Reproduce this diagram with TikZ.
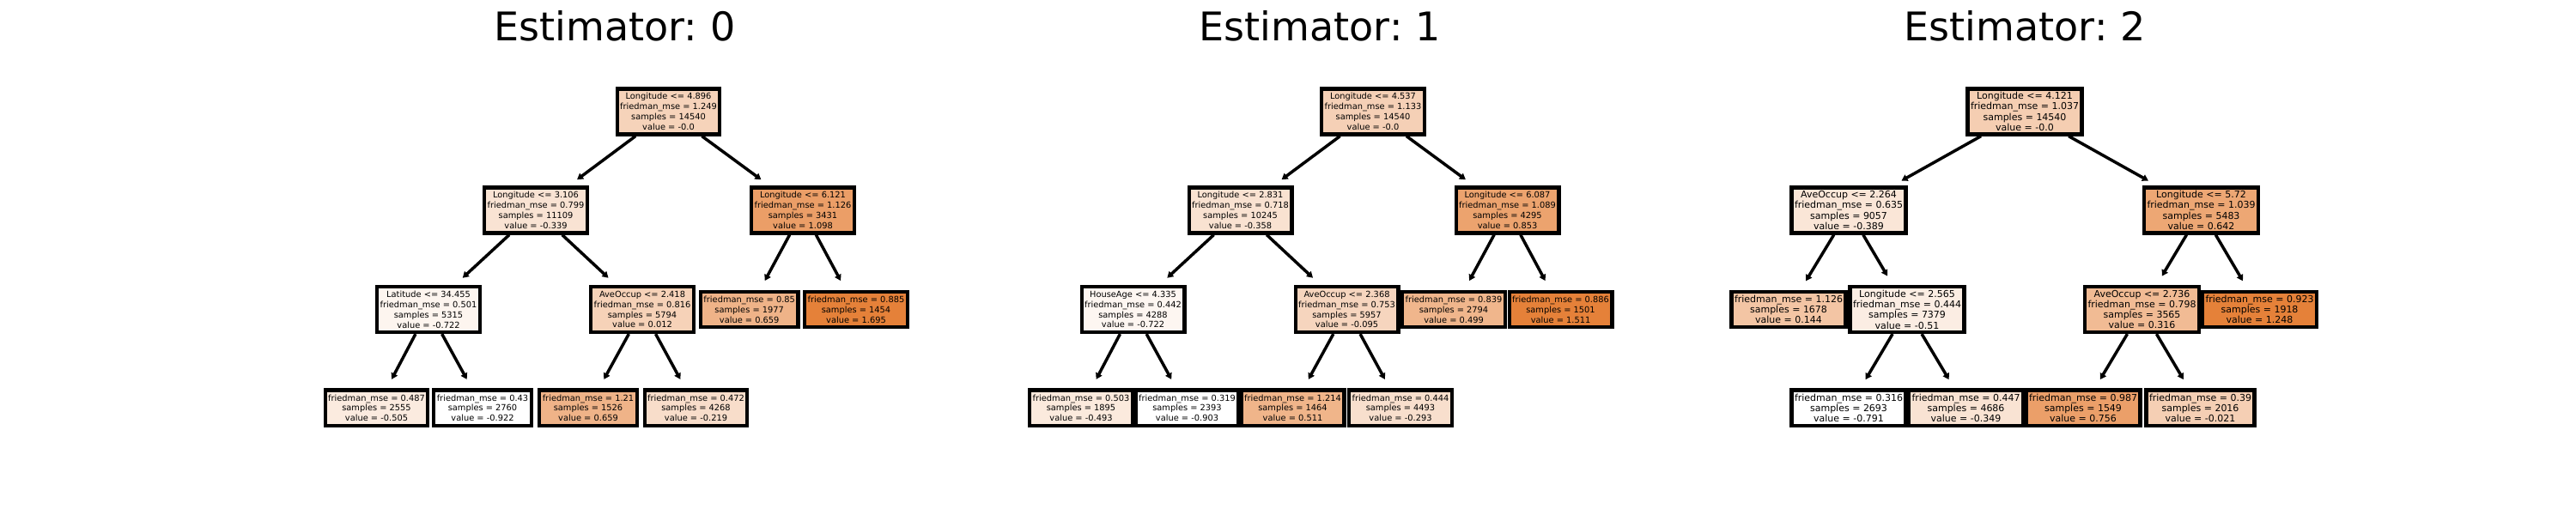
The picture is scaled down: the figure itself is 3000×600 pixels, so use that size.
\documentclass[tikz,border=0pt]{standalone}
\usepackage{fontspec}
\setmainfont{DejaVu Sans}
\usepackage{xcolor}
\usepackage{tikz}
\usetikzlibrary{arrows.meta, positioning}

\definecolor{treeor}{RGB}{229,129,57}
\frenchspacing

\begin{document}
\begin{tikzpicture}[
  x = 0.1mm, y = -0.1mm,
  split/.style = {rectangle, draw, line width=0.42mm, align=center,
                  inner xsep=0.35mm, inner ysep=0.3mm, minimum height=5.3mm,
                  font=\fontsize{2.8}{3.39}\selectfont},
  leaf/.style  = {split, minimum height=4.15mm},
  wide/.style  = {font=\fontsize{3.13}{3.5}\selectfont},
  arrow/.style = {-{Triangle[length=0.7mm, width=0.8mm]}, line width=0.35mm,
                  shorten >=1.2mm},
  title/.style = {anchor=base, font=\fontsize{13.1}{15}\selectfont},
]
\useasboundingbox (0,0) rectangle (3000,600);

% titles
\node[title] (t0) at (716,48) {Estimator: 0};
\node[title] (t1) at (1537,48) {Estimator: 1};
\node[title] (t2) at (2358,48) {Estimator: 2};

% estimator 0
\node[split, fill=treeor!35] (root0) at (778.5,130) {Longitude <= 4.896\\friedman\_mse = 1.249\\samples = 14540\\value = -0.0};
\node[split, fill=treeor!22] (l0) at (624,245) {Longitude <= 3.106\\friedman\_mse = 0.799\\samples = 11109\\value = -0.339};
\node[split, fill=treeor!77] (r0) at (935,245) {Longitude <= 6.121\\friedman\_mse = 1.126\\samples = 3431\\value = 1.098};
\node[split, fill=treeor!8] (ll0) at (499,360.5) {Latitude <= 34.455\\friedman\_mse = 0.501\\samples = 5315\\value = -0.722};
\node[split, fill=treeor!36] (lr0) at (748,360.5) {AveOccup <= 2.418\\friedman\_mse = 0.816\\samples = 5794\\value = 0.012};
\node[leaf, fill=treeor!60] (rl0) at (872.7,360.5) {friedman\_mse = 0.85\\samples = 1977\\value = 0.659};
\node[leaf, fill=treeor!100] (rr0) at (997,360.5) {friedman\_mse = 0.885\\samples = 1454\\value = 1.695};
\node[leaf, fill=treeor!16] (lll0) at (438.5,475.3) {friedman\_mse = 0.487\\samples = 2555\\value = -0.505};
\node[leaf, fill=treeor!0] (llr0) at (562,475.3) {friedman\_mse = 0.43\\samples = 2760\\value = -0.922};
\node[leaf, fill=treeor!60] (lrl0) at (685,475.3) {friedman\_mse = 1.21\\samples = 1526\\value = 0.659};
\node[leaf, fill=treeor!27] (lrr0) at (810.5,475.3) {friedman\_mse = 0.472\\samples = 4268\\value = -0.219};

\draw[arrow] (root0) -- (l0);
\draw[arrow] (root0) -- (r0);
\draw[arrow] (l0) -- (ll0);
\draw[arrow] (l0) -- (lr0);
\draw[arrow] (r0) -- (rl0);
\draw[arrow] (r0) -- (rr0);
\draw[arrow] (ll0) -- (lll0);
\draw[arrow] (ll0) -- (llr0);
\draw[arrow] (lr0) -- (lrl0);
\draw[arrow] (lr0) -- (lrr0);

% estimator 1
\node[split, fill=treeor!37] (root1) at (1599,130) {Longitude <= 4.537\\friedman\_mse = 1.133\\samples = 14540\\value = -0.0};
\node[split, fill=treeor!23] (l1) at (1444.5,245) {Longitude <= 2.831\\friedman\_mse = 0.718\\samples = 10245\\value = -0.358};
\node[split, fill=treeor!73] (r1) at (1755.5,245) {Longitude <= 6.087\\friedman\_mse = 1.089\\samples = 4295\\value = 0.853};
\node[split, fill=treeor!7] (ll1) at (1319.5,360.5) {HouseAge <= 4.335\\friedman\_mse = 0.442\\samples = 4288\\value = -0.722};
\node[split, fill=treeor!33] (lr1) at (1568.5,360.5) {AveOccup <= 2.368\\friedman\_mse = 0.753\\samples = 5957\\value = -0.095};
\node[leaf, fill=treeor!58] (rl1) at (1693,360.5) {friedman\_mse = 0.839\\samples = 2794\\value = 0.499};
\node[leaf, fill=treeor!100] (rr1) at (1817.5,360.5) {friedman\_mse = 0.886\\samples = 1501\\value = 1.511};
\node[leaf, fill=treeor!17] (lll1) at (1259,475.3) {friedman\_mse = 0.503\\samples = 1895\\value = -0.493};
\node[leaf, fill=treeor!0] (llr1) at (1382.5,475.3) {friedman\_mse = 0.319\\samples = 2393\\value = -0.903};
\node[leaf, fill=treeor!59] (lrl1) at (1505.5,475.3) {friedman\_mse = 1.214\\samples = 1464\\value = 0.511};
\node[leaf, fill=treeor!25] (lrr1) at (1631,475.3) {friedman\_mse = 0.444\\samples = 4493\\value = -0.293};

\draw[arrow] (root1) -- (l1);
\draw[arrow] (root1) -- (r1);
\draw[arrow] (l1) -- (ll1);
\draw[arrow] (l1) -- (lr1);
\draw[arrow] (r1) -- (rl1);
\draw[arrow] (r1) -- (rr1);
\draw[arrow] (ll1) -- (lll1);
\draw[arrow] (ll1) -- (llr1);
\draw[arrow] (lr1) -- (lrl1);
\draw[arrow] (lr1) -- (lrr1);

% estimator 2
\node[split, wide, fill=treeor!39] (root2) at (2358,130) {Longitude <= 4.121\\friedman\_mse = 1.037\\samples = 14540\\value = -0.0};
\node[split, wide, fill=treeor!20] (l2) at (2153,245) {AveOccup <= 2.264\\friedman\_mse = 0.635\\samples = 9057\\value = -0.389};
\node[split, wide, fill=treeor!70] (r2) at (2563.5,245) {Longitude <= 5.72\\friedman\_mse = 1.039\\samples = 5483\\value = 0.642};
\node[leaf, wide, fill=treeor!46] (ll2) at (2083,360.5) {friedman\_mse = 1.126\\samples = 1678\\value = 0.144};
\node[split, wide, fill=treeor!14] (lr2) at (2221,360.5) {Longitude <= 2.565\\friedman\_mse = 0.444\\samples = 7379\\value = -0.51};
\node[split, wide, fill=treeor!54] (rl2) at (2494.5,360.5) {AveOccup <= 2.736\\friedman\_mse = 0.798\\samples = 3565\\value = 0.316};
\node[leaf, wide, fill=treeor!100] (rr2) at (2631.5,360.5) {friedman\_mse = 0.923\\samples = 1918\\value = 1.248};
\node[leaf, wide, fill=treeor!0] (lrl2) at (2153,475.3) {friedman\_mse = 0.316\\samples = 2693\\value = -0.791};
\node[leaf, wide, fill=treeor!22] (lrr2) at (2289.5,475.3) {friedman\_mse = 0.447\\samples = 4686\\value = -0.349};
\node[leaf, wide, fill=treeor!76] (rll2) at (2426,475.3) {friedman\_mse = 0.987\\samples = 1549\\value = 0.756};
\node[leaf, wide, fill=treeor!38] (rlr2) at (2562.5,475.3) {friedman\_mse = 0.39\\samples = 2016\\value = -0.021};

\draw[arrow] (root2) -- (l2);
\draw[arrow] (root2) -- (r2);
\draw[arrow] (l2) -- (ll2);
\draw[arrow] (l2) -- (lr2);
\draw[arrow] (r2) -- (rl2);
\draw[arrow] (r2) -- (rr2);
\draw[arrow] (lr2) -- (lrl2);
\draw[arrow] (lr2) -- (lrr2);
\draw[arrow] (rl2) -- (rll2);
\draw[arrow] (rl2) -- (rlr2);
\end{tikzpicture}
\end{document}
